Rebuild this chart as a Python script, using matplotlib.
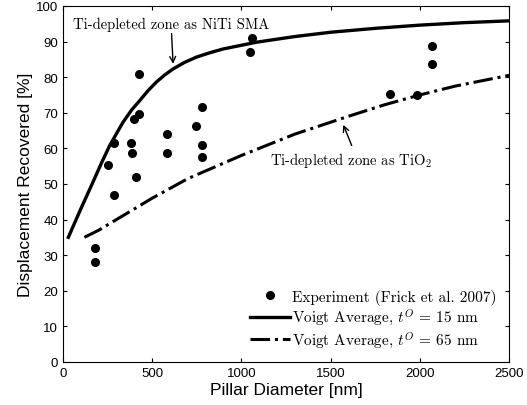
import matplotlib
matplotlib.use('Agg')
import matplotlib.pyplot as plt

# experimental data (Frick et al. 2007)
exp_d = [178, 178, 254, 284, 284, 381, 389, 400, 411, 426, 426,
         585, 585, 744, 780, 780, 780, 1047, 1060, 1832, 1982, 2070, 2070]
exp_r = [32, 28, 55.2, 61.5, 47, 61.5, 58.6, 68.3, 51.9, 81, 69.7,
         64, 58.6, 66.3, 71.7, 61, 57.7, 87, 90.9, 75.3, 74.9, 88.8, 83.6]

# Voigt average, t^O = 15 nm
v15_d = [30, 100, 168, 215, 262, 336, 385, 430, 475, 523, 570, 617, 680,
         747, 820, 897, 1084, 1300, 1500, 1750, 2000, 2250, 2500]
v15_r = [35, 43, 50.5, 55.8, 60.8, 67.3, 70.8, 73.4, 76.1, 78.6, 80.6, 82.3, 84.1,
         85.6, 86.8, 87.9, 89.8, 91.4, 92.6, 93.7, 94.6, 95.3, 95.8]

# Voigt average, t^O = 65 nm
v65_d = [120, 200, 300, 400, 500, 700, 1000, 1300, 1600, 1800, 2000, 2200, 2500]
v65_r = [35, 37, 40, 43, 46, 51.5, 58, 64, 69, 72.2, 75, 77.5, 80.5]

plt.rcParams['mathtext.fontset'] = 'cm'
serif = 'cmr10'
sans = 'Liberation Sans'

fig = plt.figure(figsize=(5.27, 4.06), dpi=100)
ax = fig.add_axes([0.1195, 0.106, 0.8465, 0.877])

ax.plot(exp_d, exp_r, 'o', color='black', markersize=5.5,
        label='Experiment (Frick et al. 2007)')
ax.plot(v15_d, v15_r, '-', color='black', linewidth=2.4,
        label=r'Voigt Average, $t^O$ = 15 nm')
ax.plot(v65_d, v65_r, '-.', color='black', linewidth=2.2,
        label=r'Voigt Average, $t^O$ = 65 nm')

ax.annotate('Ti-depleted zone as NiTi SMA', xy=(617, 83.7), xytext=(56, 95),
            fontsize=10.5, family=serif, va='center',
            arrowprops=dict(arrowstyle='->', color='black', lw=1, shrinkA=0, shrinkB=0))
ax.annotate('', xy=(1571, 66.6), xytext=(1618, 60.8),
            arrowprops=dict(arrowstyle='->', color='black', lw=1, shrinkA=0, shrinkB=0))
ax.text(1159, 56.8, r'Ti-depleted zone as TiO$_2$', fontsize=10.5,
        family=serif, va='center')

ax.set_xlim(0, 2500)
ax.set_ylim(0, 100)
ax.set_xticks([0, 500, 1000, 1500, 2000, 2500])
ax.set_yticks(range(0, 101, 10))
ax.tick_params(direction='in', top=True, right=True, length=3, labelsize=9.5)
for lab in ax.get_xticklabels() + ax.get_yticklabels():
    lab.set_family(sans)

ax.set_xlabel('Pillar Diameter [nm]', fontsize=12.5, family=sans, labelpad=2)
ax.set_ylabel('Displacement Recovered [%]', fontsize=12.5, family=sans, labelpad=2)

leg = ax.legend(loc='lower right', frameon=False, prop={'family': serif, 'size': 11},
                handlelength=2.6, handletextpad=0.15, labelspacing=0.15,
                borderaxespad=0.4)

fig.savefig('out.png', dpi=100)
